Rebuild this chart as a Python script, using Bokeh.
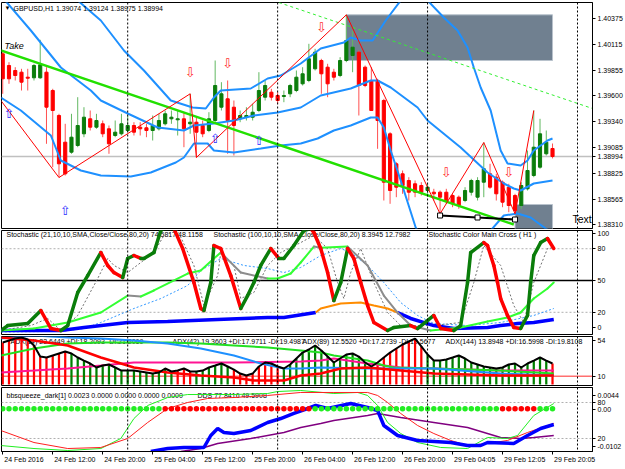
from bokeh.plotting import figure
from bokeh.models import Range1d, FixedTicker, PrintfTickFormatter, Label, Span, AllLabels
from bokeh.layouts import column
from bokeh.embed import file_html
from bokeh.resources import INLINE
from bokeh.core.properties import value

FONT = "Liberation Sans"
FS = "7px"

# ---------------- data ----------------
bars = list(range(89))
open_ = [1.40021, 1.39904, 1.39854, 1.39837, 1.39787, 1.39781, 1.39781, 1.39837, 1.39654, 1.39404,
         1.39137, 1.39037, 1.39104, 1.39221, 1.39371, 1.39287, 1.39321, 1.39271, 1.39204, 1.39221,
         1.39254, 1.39304, 1.39287, 1.39281, 1.39254, 1.39271, 1.39321, 1.39371, 1.39361, 1.39371,
         1.39321, 1.39337, 1.39304, 1.39254, 1.39354, 1.39487, 1.39571, 1.39487, 1.39371, 1.39387,
         1.39387, 1.39454, 1.39587, 1.39637, 1.39604, 1.39594, 1.39621, 1.39654, 1.39721, 1.39754,
         1.39871, 1.39954, 1.39887, 1.39837, 1.39804, 1.39954, 1.40004, 1.40037, 1.39887, 1.39754,
         1.39754, 1.39554, 1.39221, 1.38921, 1.38821, 1.38754, 1.38721, 1.38704, 1.38654, 1.38637,
         1.38637, 1.38637, 1.38604, 1.38587, 1.38554, 1.38637, 1.38587, 1.38737, 1.38821, 1.38787,
         1.38737, 1.38687, 1.38604, 1.38504, 1.38671, 1.38804, 1.38887, 1.39021, 1.39074]
high = [1.40054, 1.39937, 1.39887, 1.39871, 1.39871, 1.39921, 1.40161, 1.39887, 1.39671, 1.39421,
        1.39321, 1.39421, 1.39587, 1.39487, 1.39454, 1.39421, 1.39354, 1.39304, 1.39354, 1.39421,
        1.39404, 1.39337, 1.39337, 1.39321, 1.39404, 1.39421, 1.39454, 1.39454, 1.39454, 1.39437,
        1.39621, 1.39387, 1.39354, 1.39437, 1.39954, 1.39737, 1.39754, 1.39554, 1.39454, 1.39487,
        1.39521, 1.39837, 1.39754, 1.39671, 1.39637, 1.39654, 1.39721, 1.39854, 1.39887, 1.40121,
        1.40071, 1.39971, 1.39921, 1.39871, 1.39987, 1.40411, 1.40254, 1.40054, 1.39904, 1.39887,
        1.39771, 1.39571, 1.39237, 1.38937, 1.38854, 1.38787, 1.38754, 1.38737, 1.38721, 1.38671,
        1.38654, 1.38671, 1.38621, 1.38604, 1.38687, 1.38771, 1.38787, 1.39134, 1.38921, 1.38821,
        1.38754, 1.38721, 1.38621, 1.38737, 1.39054, 1.39454, 1.39371, 1.39254, 1.39124]
low = [1.39621, 1.39721, 1.39754, 1.39654, 1.39654, 1.39754, 1.39771, 1.39121, 1.38887, 1.38784,
       1.38804, 1.39021, 1.39087, 1.39187, 1.39254, 1.39271, 1.39187, 1.39021, 1.39187, 1.39204,
       1.39237, 1.39204, 1.39204, 1.39187, 1.39154, 1.39254, 1.39304, 1.39321, 1.39204, 1.39087,
       1.39221, 1.38984, 1.39187, 1.39237, 1.39321, 1.39454, 1.39021, 1.39004, 1.39337, 1.39354,
       1.39354, 1.39437, 1.39554, 1.39554, 1.39521, 1.39537, 1.39587, 1.39637, 1.39704, 1.39737,
       1.39854, 1.39621, 1.39587, 1.39754, 1.39787, 1.39937, 1.39837, 1.39404, 1.39687, 1.39454,
       1.39071, 1.38554, 1.38521, 1.38587, 1.38621, 1.38554, 1.38587, 1.38604, 1.38621, 1.38554,
       1.38421, 1.38521, 1.38487, 1.38471, 1.38537, 1.38604, 1.38554, 1.38587, 1.38671, 1.38554,
       1.38487, 1.38437, 1.38421, 1.38471, 1.38654, 1.38787, 1.38871, 1.39004, 1.38975]
close = [1.39771, 1.39771, 1.39804, 1.39737, 1.39777, 1.39904, 1.39911, 1.39487, 1.39454, 1.38921,
         1.38821, 1.39187, 1.39304, 1.39387, 1.39287, 1.39354, 1.39221, 1.39121, 1.39237, 1.39321,
         1.39304, 1.39237, 1.39271, 1.39254, 1.39304, 1.39354, 1.39421, 1.39387, 1.39371, 1.39271,
         1.39337, 1.39237, 1.39221, 1.39371, 1.39704, 1.39621, 1.39354, 1.39304, 1.39404, 1.39404,
         1.39437, 1.39654, 1.39704, 1.39587, 1.39554, 1.39604, 1.39704, 1.39787, 1.39821, 1.39971,
         1.40037, 1.39821, 1.39721, 1.39787, 1.39954, 1.40154, 1.40087, 1.39704, 1.39704, 1.39454,
         1.39354, 1.38737, 1.38654, 1.38687, 1.38704, 1.38637, 1.38637, 1.38637, 1.38687, 1.38621,
         1.38587, 1.38554, 1.38521, 1.38504, 1.38654, 1.38754, 1.38754, 1.38871, 1.38687, 1.38621,
         1.38537, 1.38504, 1.38454, 1.38704, 1.38854, 1.39087, 1.39221, 1.39137, 1.38994]
last_price = 1.38994
price_ticks = [1.38310, 1.38565, 1.38825, 1.39085, 1.39340, 1.39600, 1.39855, 1.40115, 1.40375]

bbu_x = [9.3, 12.0, 15.7, 19.4, 22.6, 26.9, 30.4, 32.5, 33.8, 34.9, 39.7, 42.4, 44.5, 47.7, 50.9, 54.6, 55.7, 57.3,
         59.2, 61.3, 63.7, 65.8, 68.0, 70.6, 72.8, 74.4, 75.4, 76.5, 78.1, 79.7, 80.8, 82.9, 84.0, 85.0, 87.2, 88.0]
bbu_y = [1.40854, 1.40554, 1.40354, 1.40054, 1.39854, 1.39554, 1.39484, 1.39474, 1.39584, 1.39654, 1.39674, 1.39774,
         1.39804, 1.39924, 1.40074, 1.40134, 1.40184, 1.40154, 1.40154, 1.40354, 1.40554, 1.40704, 1.40554, 1.40384,
         1.40254, 1.40084, 1.39884, 1.39684, 1.39454, 1.39054, 1.38924, 1.38904, 1.38954, 1.39054, 1.39154, 1.39174]
bbm_x = [-0.3, 4.5, 9.3, 14.1, 15.7, 20.0, 24.8, 29.0, 30.6, 33.8, 37.0, 40.2, 44.0, 47.7, 50.9, 55.7, 58.9, 60.0,
         62.1, 66.4, 68.0, 73.3, 77.6, 80.2, 81.8, 82.9, 85.0, 88.0]
bbm_y = [1.40604, 1.40254, 1.39884, 1.39654, 1.39554, 1.39424, 1.39284, 1.39254, 1.39304, 1.39324, 1.39354, 1.39404,
         1.39434, 1.39484, 1.39604, 1.39674, 1.39754, 1.39754, 1.39684, 1.39484, 1.39354, 1.39084, 1.38834, 1.38724,
         1.38674, 1.38654, 1.38724, 1.38754]
bbl_x = [-0.3, 2.9, 7.7, 9.3, 12.5, 15.7, 20.5, 23.7, 27.7, 29.0, 30.6, 32.8, 33.8, 37.0, 41.3, 44.5, 47.7, 50.4,
         53.0, 55.7, 58.9, 60.0, 61.0, 62.1, 63.7, 66.1, 68.5, 73.3, 78.1, 80.2, 82.4, 84.5, 86.9, 88.0]
bbl_y = [1.39584, 1.39454, 1.39204, 1.38954, 1.38854, 1.38804, 1.38794, 1.38834, 1.38934, 1.38984, 1.39124, 1.39124,
         1.39054, 1.39034, 1.39074, 1.39104, 1.39124, 1.39174, 1.39254, 1.39304, 1.39384, 1.39384, 1.39284, 1.39054,
         1.38754, 1.38284, 1.38054, 1.38004, 1.38254, 1.38404, 1.38424, 1.38384, 1.38274, 1.38234]

zz_x = [-0.3, 9, 30, 31, 55, 70, 77, 82, 85]
zz_y = [1.39554, 1.38784, 1.39621, 1.38984, 1.40411, 1.38421, 1.39134, 1.38421, 1.39454]
trend_x = [-0.3, 81.8]
trend_y = [1.40054, 1.38314]
chan_x = [44.2, 94.4]
chan_y = [1.40534, 1.39474]
rect_left = [55, 82]
rect_right = [88, 88]
rect_bottom = [1.39954, 1.38200]
rect_top = [1.40411, 1.38514]
blk_x = [70, 76, 82]
blk_y = [1.38404, 1.38384, 1.38364]
arr_dn_x = [30, 36, 51, 71, 81]
arr_dn_y = [1.39834, 1.39924, 1.40284, 1.38834, 1.38834]
arr_up_x = [1, 10, 34, 41]
arr_up_y = [1.39424, 1.38454, 1.39174, 1.39154]

# Stochastic window
s1_x = [-0.3, 0.8, 4.0, 6.1, 7.7, 9.3, 10.4, 12.0, 13.6, 15.7, 16.8, 17.8, 19.2, 20.0, 21.0, 22.1, 22.6, 24.2, 25.3,
        25.8, 27.4, 28.8, 30.6, 31.7, 32.2, 33.3, 33.8, 34.9, 36.5, 38.1, 39.2, 40.2, 41.3, 42.9, 44.2, 45.0, 46.6,
        48.2, 49.3, 49.8, 50.9, 52.0, 53.0, 54.1, 55.2, 56.2, 57.3, 58.4, 59.4, 61.6, 62.6, 65.3, 66.4, 69.0, 70.1,
        72.2, 73.3, 74.4, 74.9, 77.0, 77.6, 78.6, 79.2, 79.7, 80.8, 81.8, 82.9, 84.0, 84.5, 85.0, 86.1, 87.2, 88.2]
s1_y = [2.8, 7.5, 9.4, 21.7, 4.7, 2.8, 7.5, 38.7, 54.7, 76.4, 64.2, 57.5, 52.8, 70.8, 73.6, 70.8, 70.8, 76.4, 97.2,
        99.0, 99.0, 80.2, 48.1, 23.6, 21.7, 48.1, 83.0, 80.2, 54.7, 23.6, 35.8, 48.1, 64.2, 80.2, 70.8, 70.8, 83.0,
        97.2, 99.0, 95.3, 80.2, 57.5, 31.1, 48.1, 80.2, 70.8, 48.1, 26.4, 10.4, 2.8, 5.7, 7.5, 4.7, 17.0, 4.7,
        2.8, 7.5, 48.1, 76.4, 85.8, 83.0, 64.2, 48.1, 33.0, 17.0, 5.7, 4.7, 17.0, 48.1, 73.6, 85.8, 89.6, 80.2]
s3_x = [-0.3, 5.0, 10.4, 15.7, 20.0, 22.1, 24.2, 29.6, 31.7, 33.8, 34.9, 38.1, 42.4, 44.0, 46.1, 47.7, 49.8, 50.9,
        55.2, 58.4, 61.0, 63.2, 65.3, 68.5, 73.3, 77.6, 80.8, 82.9, 85.0, 87.2, 88.2]
s3_y = [2.8, 4.7, 10.4, 19.8, 35.8, 34.9, 40.6, 56.6, 59.4, 70.8, 76.4, 57.5, 51.9, 51.9, 56.6, 67.0, 82.0, 81.0,
        82.0, 64.2, 35.8, 19.8, 7.5, 2.8, 5.7, 11.3, 15.1, 19.8, 33.0, 42.5, 48.1]
s4a_x = [-0.3, 9.3, 13.0, 20.0, 26.4, 34.4, 42.4, 45.0, 50.1]
s4a_y = [2.8, 2.8, 5.7, 10.4, 11.3, 13.2, 15.1, 15.1, 19.8]
s4o_x = [50.1, 50.9, 54.1, 57.3, 59.4, 61.6, 63.2]
s4o_y = [19.8, 23.6, 28.3, 29.2, 26.4, 23.6, 19.8]
s4b_x = [63.2, 65.3, 69.0, 72.2, 77.6, 79.7, 82.4, 85.0, 88.2]
s4b_y = [19.8, 14.2, 7.5, 4.7, 5.7, 7.5, 9.4, 10.4, 13.2]
s6_x = [-0.3, 9.3, 13.0, 15.7, 21.0, 25.3, 29.6, 31.7, 34.9, 38.6, 42.4, 45.0, 47.7, 50.9, 54.1, 55.7, 58.4, 61.0,
        63.7, 66.4, 69.0, 74.4, 79.7, 85.0, 88.2]
s6_y = [1.5, 2.0, 4.7, 10.4, 23.6, 33.0, 45.3, 59.4, 70.8, 64.2, 61.3, 57.5, 62.3, 73.6, 80.2, 76.4, 64.2, 48.1,
        29.2, 17.0, 9.4, 7.5, 10.4, 17.0, 23.6]
s7_x = [-0.3, 4.5, 7.2, 9.3, 12.0, 15.2, 16.8, 17.8, 20.0, 22.1, 24.2, 25.8, 28.0, 30.6, 32.2, 34.4, 34.9, 37.0,
        38.1, 40.2, 42.4, 44.5, 47.7, 49.8, 52.0, 53.6, 54.6, 55.7, 57.3, 59.4, 61.6, 63.7, 69.0, 73.3, 75.4, 77.0,
        79.7, 81.8, 83.4, 85.0, 87.2, 88.2]
s7_y = [2.8, 7.5, 14.2, 2.8, 17.0, 51.9, 70.8, 64.2, 57.5, 67.0, 76.4, 92.5, 97.2, 64.2, 26.4, 54.7, 76.4, 64.2,
        33.0, 38.7, 64.2, 76.4, 85.8, 92.5, 80.2, 48.1, 33.0, 57.5, 80.2, 48.1, 19.8, 7.5, 7.5, 10.4, 48.1, 83.0,
        64.2, 26.4, 10.4, 48.1, 80.2, 81.1]

# ADX window
adx_hist = [51.3, 53.8, 56.2, 57.5, 55.0, 47.7, 34.2, 33.0, 35.5, 37.9,
            40.3, 37.9, 33.0, 29.3, 25.7, 20.8, 23.2, 24.5, 20.8, 17.1,
            17.1, 17.1, 15.9, 14.7, 13.4, 14.7, 19.6, 15.9, 17.1, 19.6,
            15.9, 15.9, 17.1, 20.8, 23.2, 25.7, 22.0, 18.3, 13.4, 11.0,
            13.4, 22.0, 26.9, 25.7, 22.0, 19.6, 24.5, 31.8, 39.1, 42.8,
            47.7, 41.6, 34.2, 26.9, 31.8, 36.7, 37.9, 34.2, 26.9, 22.0,
            26.9, 33.0, 39.1, 44.0, 48.9, 52.6, 56.2, 46.5, 36.7, 29.3,
            29.3, 30.6, 33.0, 35.5, 31.8, 26.9, 24.5, 22.0, 20.8, 19.6,
            20.8, 24.5, 25.7, 20.8, 25.7, 29.3, 33.0, 29.3, 25.7]
adx_bull = [0, 0, 0, 0, 0, 0, 0, 0, 0, 0,
            0, 1, 1, 1, 1, 1, 1, 1, 1, 1,
            1, 1, 1, 1, 1, 1, 1, 1, 0, 0,
            0, 1, 1, 1, 1, 1, 1, 0, 0, 0,
            0, 0, 0, 0, 0, 1, 1, 1, 1, 1,
            1, 1, 1, 1, 1, 1, 1, 1, 1, 0,
            0, 0, 0, 0, 0, 0, 0, 0, 1, 1,
            1, 1, 1, 1, 1, 1, 1, 1, 1, 1,
            1, 1, 1, 1, 1, 1, 1, 1, 0]
adx_blue_x = [-0.3, 5.0, 10.4, 15.7, 21.0, 26.4, 31.7, 37.0, 41.3, 45.0, 47.7, 50.9, 58.4, 69.0, 79.7, 88.2]
adx_blue_y = [56.2, 59.9, 57.5, 56.2, 53.8, 50.1, 44.0, 35.5, 25.7, 19.6, 19.6, 20.8, 19.6, 19.6, 13.4, 11.0]
adx_lime_x = [-0.3, 5.0, 10.4, 15.7, 21.0, 26.4, 31.7, 37.0, 42.4, 47.7, 50.9, 53.0, 58.4, 61.0, 62.6, 69.0, 79.7, 88.2]
adx_lime_y = [35.5, 44.0, 50.1, 51.3, 51.3, 51.3, 50.1, 47.7, 45.2, 41.6, 39.1, 35.5, 29.3, 23.2, 20.8, 19.6, 17.1, 13.4]
adx_pink_x = [-0.3, 5.0, 10.4, 15.7, 21.0, 26.4, 37.0, 47.7, 50.9, 53.0, 58.4, 63.7, 69.0, 79.7, 88.2]
adx_pink_y = [14.7, 17.1, 19.6, 23.2, 26.9, 26.9, 26.9, 28.1, 29.3, 31.8, 25.7, 20.8, 19.6, 17.1, 17.1]
adx_red_x = [-0.3, 5.0, 10.4, 15.7, 18.4, 21.0, 26.4, 31.7, 37.0, 40.2, 45.0, 47.7, 50.9, 54.1, 58.4, 63.7, 69.0, 79.7, 88.2]
adx_red_y = [57.5, 53.8, 47.7, 33.0, 26.9, 20.8, 14.7, 11.0, 8.6, 4.9, 4.9, 11.0, 13.4, 19.6, 20.8, 17.1, 13.4, 11.0, 11.0]

# bbsqueeze window
sq_state = [1, 1, 1, 1, 1, 1, 1, 1, 1, 1, 1, 1, 1, 1, 1, 1, 1, 1, 1, 1, 1, 1, 1, 1, 1, 1,
            0, 0, 0, 0, 0, 0, 0, 0, 0, 0, 0, 0, 0, 0, 0, 0, 0, 0, 0, 0, 0, 0, 0, 0,
            1, 1, 1, 1, 1, 1, 1, 1, 1, 1, 1, 1, 1, 1, 1, 1, 1, 1, 1, 1, 1, 1, 1, 1, 1, 1, 1, 1, 1, 1,
            0, 0, 0, 0, 0, 0, 1, 1, 1]
sq_level = 0.0
bbq_blue_x = [23.7, 26.4, 29.0, 32.2, 33.3, 34.4, 35.4, 37.0, 39.7, 42.4, 44.5, 46.6, 48.8, 50.1, 52.0, 55.7, 58.4,
              60.0, 61.0, 63.2, 66.4, 71.7, 74.4, 76.5, 77.6, 81.8, 84.0, 86.1, 88.2]
bbq_blue_y = [-1.7, 3.3, 5.0, 5.0, 25.0, 36.7, 30.0, 28.3, 33.3, 46.7, 53.3, 61.7, 70.0, 75.0, 70.0, 78.3, 71.7,
              66.7, 41.7, 25.0, 16.7, 13.3, 8.3, 8.3, 13.3, 11.7, 25.0, 36.7, 43.3]
bbq_red_x = [-0.3, 5.0, 10.4, 15.7, 20.0, 23.2, 26.4, 29.6, 32.8, 37.0, 42.4, 47.7, 53.0, 58.4, 60.0, 61.6, 63.7,
             66.4, 69.0, 71.7, 74.4, 77.6, 80.8, 84.0, 88.2]
bbq_red_y = [33.3, 13.3, 3.3, 5.0, 20.0, 46.7, 70.0, 80.0, 86.7, 88.3, 91.7, 96.7, 96.7, 96.7, 91.7, 80.0, 61.7,
             41.7, 28.3, 16.7, 8.3, 11.7, 16.7, 30.0, 45.0]
bbq_green_x = [-0.3, 5.0, 10.4, 15.7, 18.9, 21.0, 23.2, 26.4, 29.6, 37.0, 42.4, 44.0, 47.7, 53.0, 56.8, 58.4, 60.0,
               61.6, 63.7, 66.4, 70.1, 74.4, 77.6, 80.8, 82.4, 85.0, 88.2]
bbq_green_y = [8.3, 3.3, 0.0, 3.3, 20.0, 53.3, 75.0, 88.3, 93.3, 93.3, 95.0, 98.3, 100.0, 95.0, 96.7, 91.7, 75.0,
               46.7, 28.3, 13.3, 5.0, 3.3, 21.7, 20.0, 25.0, 58.3, 78.3]
bbq_purple_x = [28.5, 31.7, 34.4, 39.7, 45.0, 47.7, 50.9, 53.0, 58.4, 60.0, 63.7, 69.0, 74.4, 79.7, 82.9, 85.0, 88.2]
bbq_purple_y = [-1.7, 3.3, 11.7, 20.0, 30.0, 38.3, 45.0, 50.0, 58.3, 61.7, 55.0, 46.7, 38.3, 21.7, 20.0, 21.7, 25.0]

date_ticks = [0, 8, 16, 24, 32, 40, 48, 56, 64, 72, 80, 88]
date_labels = ["24 Feb 2016", "24 Feb 12:00", "24 Feb 20:00", "25 Feb 04:00", "25 Feb 12:00", "25 Feb 20:00",
               "26 Feb 04:00", "26 Feb 12:00", "26 Feb 20:00", "29 Feb 04:05", "29 Feb 12:05", "29 Feb 20:05"]
day_starts = [20, 44, 68, 92]

# ---------------- layout helpers ----------------
X0, X1 = -0.2, 94.4
xr = Range1d(X0, X1)
PX_PER_BAR = 591.0 / (X1 - X0)


def px2x(px):
    return X0 + (px - 1) / PX_PER_BAR


# approximate Arial/Liberation advance widths (em) used to left-align the time labels
ADV = {"0": .556, "1": .556, "2": .556, "3": .556, "4": .556, "5": .556, "6": .556, "7": .556,
       "8": .556, "9": .556, " ": .278, ":": .278, "F": .611, "e": .556, "b": .556}


def text_width_px(s, size=7.0):
    return sum(ADV.get(ch, .556) for ch in s) * size


def style_axis(ax):
    ax.axis_line_color = "black"
    ax.major_tick_line_color = "black"
    ax.major_tick_in = 0
    ax.major_tick_out = 3
    ax.minor_tick_line_color = None
    ax.major_label_text_font = FONT
    ax.major_label_text_font_size = FS
    ax.major_label_text_color = "black"
    ax.major_label_standoff = 2
    ax.major_label_policy = AllLabels()


def base_fig(h, yr, top, bottom, xaxis=False):
    p = figure(width=625, height=h, x_range=xr, y_range=yr, output_backend="svg",
               toolbar_location=None, x_axis_location=("below" if xaxis else None),
               y_axis_location="right", min_border_left=1, min_border_right=33,
               min_border_top=top, min_border_bottom=bottom)
    p.grid.visible = False
    p.outline_line_color = "black"
    p.outline_line_width = 1
    p.background_fill_color = "white"
    p.border_fill_color = "white"
    style_axis(p.yaxis[0])
    for d in day_starts:
        p.add_layout(Span(location=d, dimension="height", line_color="black",
                          line_dash="2 2", line_width=1))
    return p


def txt(p, x, y, s, size=FS, style="normal", level="underlay", color="black", font=FONT):
    p.add_layout(Label(x=x, y=y, text=s, text_font=font, text_font_size=size,
                       text_font_style=style, text_color=color, text_baseline="middle",
                       text_align="left", level=level))


def colored_segments(p, xs, ys, up_color, down_color, width):
    x0, y0, x1, y1, cols = [], [], [], [], []
    for i in range(len(xs) - 1):
        x0.append(xs[i]); y0.append(ys[i]); x1.append(xs[i + 1]); y1.append(ys[i + 1])
        cols.append(up_color if ys[i + 1] >= ys[i] else down_color)
    p.segment(x0=x0, y0=y0, x1=x1, y1=y1, line_color=cols, line_width=width, line_cap="round")


# ---------------- main price window ----------------
p1 = base_fig(229, Range1d(1.38274, 1.40534), 2, 1)
p1.yaxis[0].ticker = FixedTicker(ticks=price_ticks + [last_price])
p1.yaxis[0].formatter = PrintfTickFormatter(format="%.5f")

p1.add_layout(Span(location=last_price, dimension="width", line_color="#C0C0C0",
                   line_width=1.5, level="underlay"))
p1.quad(left=rect_left, right=rect_right, bottom=rect_bottom, top=rect_top,
        fill_color="#708090", line_color="#B8C2CC", line_width=1)

bull = [c >= o for o, c in zip(open_, close)]
body_col = ["#0B7D0B" if b else "#FF0000" for b in bull]
wick_col = ["#62B862" if b else "#FF5050" for b in bull]
p1.segment(x0=bars, y0=low, x1=bars, y1=high, line_color=wick_col, line_width=1)
p1.vbar(x=bars, width=0.5, top=[max(o, c) for o, c in zip(open_, close)],
        bottom=[min(o, c) for o, c in zip(open_, close)],
        fill_color=body_col, line_color=body_col, line_width=1)

for xs, ys in ((bbu_x, bbu_y), (bbm_x, bbm_y), (bbl_x, bbl_y)):
    p1.line(xs, ys, line_color="#1E90FF", line_width=2)
p1.line(trend_x, trend_y, line_color="#22E000", line_width=2.5)
p1.line(chan_x, chan_y, line_color="#33EE33", line_width=1, line_dash="3 3")
p1.line(zz_x, zz_y, line_color="#FF0000", line_width=1)
p1.line(blk_x, blk_y, line_color="black", line_width=2)
p1.scatter(blk_x, blk_y, marker="square", size=5, fill_color="white", line_color="black")
p1.text(x=arr_dn_x, y=arr_dn_y, text=["\u21e9"] * len(arr_dn_x), text_font=value("DejaVu Sans"),
        text_font_size=value("13px"), text_color="#FF3030", text_align="center", text_baseline="middle")
p1.text(x=arr_up_x, y=arr_up_y, text=["\u21e7"] * len(arr_up_x), text_font=value("DejaVu Sans"),
        text_font_size=value("13px"), text_color="#3030FF", text_align="center", text_baseline="middle")

txt(p1, px2x(4), 1.40476, "\u25bc", size="6px", level="annotation")
txt(p1, px2x(13), 1.40476, "GBPUSD,H1  1.39074 1.39124 1.38975 1.38994", level="annotation")
txt(p1, px2x(4), 1.40104, "Take", size="9px", style="italic", level="annotation")
txt(p1, px2x(572), 1.38374, "Text", size="10.5px", level="annotation")

# ---------------- stochastic window ----------------
p2 = base_fig(106, Range1d(-0.94, 97.2), 1, 1)
p2.yaxis[0].ticker = FixedTicker(ticks=[6, 20, 50, 80, 94])
p2.yaxis[0].major_label_overrides = {6: "0", 20: "20", 50: "50", 80: "80", 94: "100"}
for lv in (80, 20):
    p2.add_layout(Span(location=lv, dimension="width", line_color="#B0B0B0", line_dash="2 2",
                       line_width=1, level="underlay"))
p2.add_layout(Span(location=50, dimension="width", line_color="black", line_width=1.5, level="underlay"))
txt(p2, px2x(6), 93.4, "Stochastic (21,10,10,SMA,Close/Close,80,20) 74.5817 48.1158")
txt(p2, px2x(213), 93.4, "Stochastic (100,10,10,SMA,Close/Close,80,20) 8.3945 12.7982")
txt(p2, px2x(428), 93.4, "Stochastic Color Main Cross ( H1 )")
p2.line(s6_x, s6_y, line_color="#3399FF", line_width=1, line_dash="2 2")
p2.line(s7_x, s7_y, line_color="#707070", line_width=1, line_dash="2 2")
p2.line(s4a_x, s4a_y, line_color="#0000FF", line_width=3.5)
p2.line(s4b_x, s4b_y, line_color="#0000FF", line_width=3.5)
p2.line(s4o_x, s4o_y, line_color="#FF8C00", line_width=2)
colored_segments(p2, s3_x, s3_y, "#33FF33", "#8C8C8C", 2)
colored_segments(p2, s1_x, s1_y, "#0A7D0A", "#FF0000", 3.5)

# ---------------- ADX window ----------------
p3 = base_fig(51, Range1d(-1.2, 58.7), 1, 1)
p3.yaxis[0].ticker = FixedTicker(ticks=[10, 54])
p3.yaxis[0].major_label_text_color = "black"
p3.add_layout(Span(location=10, dimension="width", line_color="#FF7070", line_width=1.5, level="underlay"))
txt(p3, px2x(10), 52.6, "ADX(14) 23.6449 +DI:18.2093 -DI:21.2069")
txt(p3, px2x(172), 52.6, "ADX(42) 19.3603 +DI:17.9711 -DI:19.4987")
txt(p3, px2x(302), 52.6, "ADX(89) 12.5520 +DI:17.2739 -DI:19.5677")
txt(p3, px2x(445), 52.6, "ADX(144) 13.8948 +DI:16.5998 -DI:19.8108")
hist_col = ["#008000" if b else "#FF0000" for b in adx_bull]
p3.vbar(x=bars, width=0.36, top=adx_hist, bottom=0, fill_color=hist_col, line_color=None)
p3.line(adx_pink_x, adx_pink_y, line_color="#FF1493", line_width=2)
p3.line(adx_lime_x, adx_lime_y, line_color="#22E022", line_width=2)
p3.line(adx_blue_x, adx_blue_y, line_color="#1E90FF", line_width=2)
p3.line(adx_red_x, adx_red_y, line_color="#FF0000", line_width=2.5)
p3.line(bars, adx_hist, line_color="black", line_width=2)

# ---------------- bbsqueeze window ----------------
p4 = base_fig(83, Range1d(-1.67, 105), 1, 18, xaxis=True)
p4.extra_y_ranges = {"val": Range1d(-0.0090, 0.0045)}
p4.yaxis[0].ticker = FixedTicker(ticks=[92, 80, 68, 20, 7])
p4.yaxis[0].major_label_overrides = {92: "0.0044", 80: "80", 68: "0.00", 20: "20", 7: "-0.0102"}

# time scale: labels start just right of their tick, as in the terminal
label_pos = [round(t + (1.5 + text_width_px(s) / 2) / PX_PER_BAR, 4) for t, s in zip(date_ticks, date_labels)]
xa = p4.xaxis[0]
style_axis(xa)
xa.ticker = FixedTicker(ticks=label_pos, minor_ticks=date_ticks)
xa.major_label_overrides = {pos: s for pos, s in zip(label_pos, date_labels)}
xa.major_tick_line_color = None
xa.major_tick_out = 2
xa.major_label_standoff = 1
xa.minor_tick_line_color = "black"
xa.minor_tick_in = 0
xa.minor_tick_out = 3

for lv in (80, 20):
    p4.add_layout(Span(location=lv, dimension="width", line_color="#B0B0B0", line_dash="2 2",
                       line_width=1, level="underlay"))
txt(p4, px2x(6), 91.7, "bbsqueeze_dark[1] 0.0023 0.0000 0.0000 0.0000 0.0000")
txt(p4, px2x(197), 91.7, "DDS 77.8416 49.5908")
p4.line(bbq_purple_x, bbq_purple_y, line_color="#800080", line_width=1.5)
p4.line(bbq_green_x, bbq_green_y, line_color="#22EE22", line_width=1)
p4.line(bbq_red_x, bbq_red_y, line_color="#FF2020", line_width=1)
p4.line(bbq_blue_x, bbq_blue_y, line_color="#0000FF", line_width=3.5)
dot_col = ["#22EE22" if s else "#FF0000" for s in sq_state]
p4.scatter(x=bars, y=[sq_level] * len(bars), y_range_name="val", size=5.5,
           fill_color=dot_col, line_color=None)

layout = column(p1, p2, p3, p4, spacing=0)
open("out.html", "w").write(file_html(layout, INLINE))
